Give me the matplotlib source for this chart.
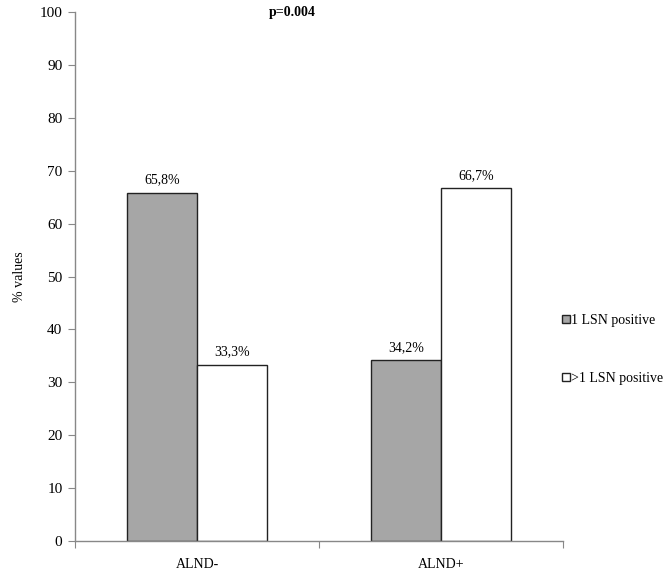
import matplotlib
matplotlib.use("Agg")
import matplotlib.pyplot as plt
from matplotlib.lines import Line2D
import numpy as np

plt.rcParams['font.family'] = ['Liberation Serif', 'DejaVu Serif']

categories = ["ALND-", "ALND+"]
series_names = ["1 LSN positive", ">1 LSN positive"]
one_lsn = [65.8, 34.2]
more_lsn = [33.3, 66.7]
labels_one = ["65,8%", "34,2%"]
labels_more = ["33,3%", "66,7%"]
yticks = [0, 10, 20, 30, 40, 50, 60, 70, 80, 90, 100]

fig = plt.figure(figsize=(6.72, 5.72), dpi=100)
ax = fig.add_axes([0.1116, 0.0542, 0.7262, 0.9248])

x = np.arange(len(categories))
w = 0.287
c_gray = "#a6a6a6"
b1 = ax.bar(x - w / 2, one_lsn, w, color=c_gray, edgecolor="#222222", linewidth=1.0)
b2 = ax.bar(x + w / 2, more_lsn, w, color="white", edgecolor="#222222", linewidth=1.0)

for rect, lab in zip(b1, labels_one):
    ax.text(rect.get_x() + rect.get_width() / 2, rect.get_height() + 1.2, lab,
            ha="center", va="bottom", fontsize=10)
for rect, lab in zip(b2, labels_more):
    ax.text(rect.get_x() + rect.get_width() / 2, rect.get_height() + 1.2, lab,
            ha="center", va="bottom", fontsize=10)

ax.set_xlim(-0.5, 1.5)
ax.set_ylim(0, 100)
ax.set_yticks(yticks)
ax.set_yticklabels([str(t) for t in yticks], fontsize=11)
ax.set_xticks([-0.5, 0.5, 1.5], minor=False)
ax.set_xticklabels(["", "", ""])
ax.set_xticks(x, minor=True)
ax.set_xticklabels(categories, minor=True, fontsize=10)
ax.tick_params(axis="x", which="minor", length=0, pad=12)
ax.tick_params(axis="x", which="major", length=5, color="#888888", direction="out")
ax.tick_params(axis="y", length=5, color="#888888", direction="out", pad=4)

for s in ["top", "right"]:
    ax.spines[s].set_visible(False)
for s in ["left", "bottom"]:
    ax.spines[s].set_color("#888888")
    ax.spines[s].set_linewidth(1.0)

ax.set_ylabel("% values", fontsize=10, labelpad=10)

ax.text(0.39, 100, "p=0.004", ha="center", va="center", fontsize=10, fontweight="bold")

handles = [
    Line2D([], [], marker="s", linestyle="none", markersize=6, markerfacecolor=c_gray,
           markeredgecolor="#222222", markeredgewidth=1.0),
    Line2D([], [], marker="s", linestyle="none", markersize=6, markerfacecolor="white",
           markeredgecolor="#222222", markeredgewidth=1.0),
]
ax.legend(handles, series_names, loc="center left", bbox_to_anchor=(0.985, 0.362),
          frameon=False, fontsize=10, handlelength=0.5, handletextpad=0.1,
          labelspacing=3.2, borderpad=0)

fig.savefig("out.png", dpi=100)
